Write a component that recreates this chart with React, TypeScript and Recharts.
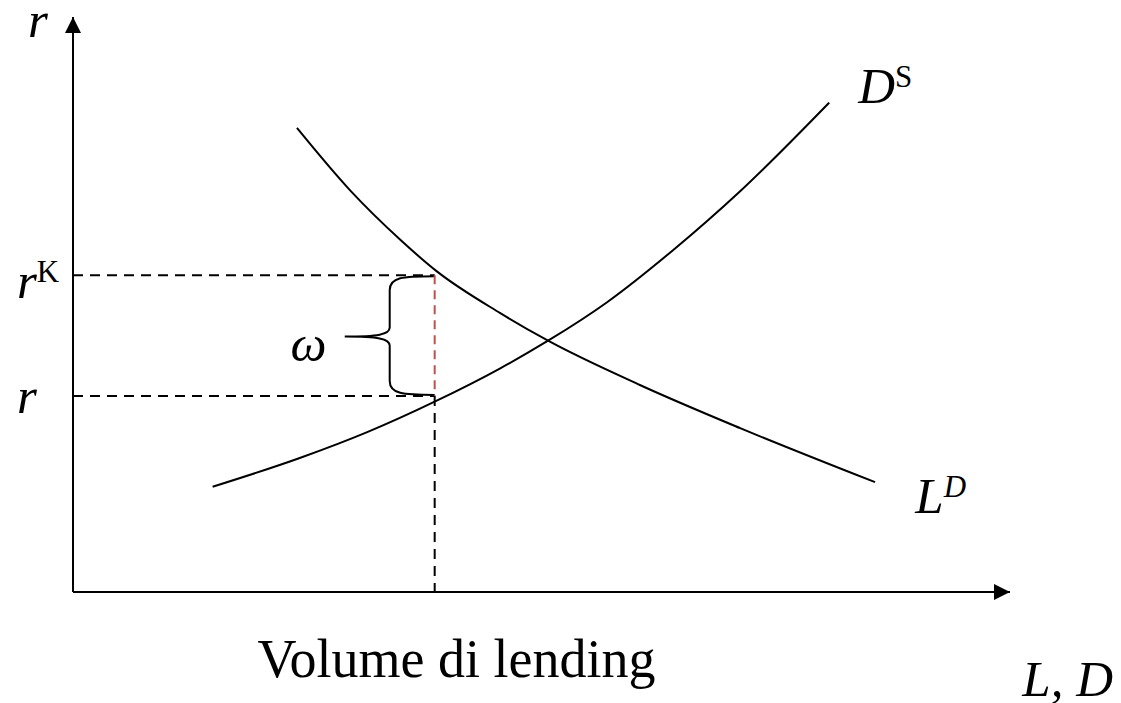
import React from 'react';
import {
  LineChart, Line, XAxis, YAxis, ReferenceLine, ReferenceDot, ReferenceArea,
} from 'recharts';

// loan demand curve L^D (quantity, rate)
const ldPoints = [
  { q: 23.9, r: 80.7 },
  { q: 29.6, r: 69.8 },
  { q: 34.9, r: 61.3 },
  { q: 38.8, r: 55.8 },
  { q: 45.6, r: 48.5 },
  { q: 50.7, r: 43.7 },
  { q: 60.5, r: 36.0 },
  { q: 71.2, r: 28.5 },
  { q: 85.6, r: 19.1 },
];

// deposit supply curve D^S
const dsPoints = [
  { q: 14.9, r: 18.3 },
  { q: 24.2, r: 23.3 },
  { q: 31.4, r: 27.8 },
  { q: 38.6, r: 33.1 },
  { q: 45.6, r: 38.9 },
  { q: 50.7, r: 43.7 },
  { q: 57.0, r: 50.4 },
  { q: 64.0, r: 59.4 },
  { q: 71.2, r: 69.7 },
  { q: 80.7, r: 85.1 },
];

const rLevel = 34.1;
const rKLevel = 55.1;
const lendingVolume = 38.6;
const braceTip = 29.0;
const yTicks = [rLevel, rKLevel];

const FONT = '"Liberation Serif", "Times New Roman", serif';

const Brace = (props: any) => {
  const { x, y, width: w, height: h } = props;
  const sx = x + w * 0.5;
  const mid = y + h / 2 + 1;
  const d = [
    `M ${x + w} ${y + 1}`,
    `C ${x + w - 32} ${y + 1} ${sx} ${y + 2} ${sx} ${y + 15}`,
    `L ${sx} ${mid - 9}`,
    `C ${sx} ${mid - 2} ${sx - 12} ${mid} ${x} ${mid}`,
    `M ${x} ${mid}`,
    `C ${sx - 12} ${mid} ${sx} ${mid + 2} ${sx} ${mid + 9}`,
    `L ${sx} ${y + h - 15}`,
    `C ${sx} ${y + h - 2} ${x + w - 32} ${y + h - 1} ${x + w} ${y + h - 1}`,
  ].join(' ');
  return <path d={d} fill="none" stroke="#000" strokeWidth={2} />;
};

const UpArrow = ({ cx, cy }: any) => (
  <polygon points={`${cx},${cy} ${cx - 8},${cy + 16} ${cx + 8},${cy + 16}`} fill="#000" />
);

const RightArrow = ({ cx, cy }: any) => (
  <polygon points={`${cx},${cy} ${cx - 16},${cy - 8} ${cx - 16},${cy + 8}`} fill="#000" />
);

const textAt = (content: React.ReactNode, extra: any = {}) => ({ cx, cy }: any) => (
  <text x={cx} y={cy} fontFamily={FONT} fontSize={51} fill="#000" {...extra}>{content}</text>
);

const RateTick = ({ y, payload }: any) => {
  const isK = payload.value === rKLevel;
  return (
    <text x={17} y={y + (isK ? 23 : 17)} fontFamily={FONT} fontSize={51} fill="#000">
      <tspan fontStyle="italic">r</tspan>
      {isK && <tspan fontSize={31} dy={-16}>K</tspan>}
    </text>
  );
};

export default function App() {
  return (
    <div style={{ position: 'absolute', left: 0, top: 0, background: '#fff' }}>
      <LineChart width={1121} height={703} margin={{ top: 17, right: 111, bottom: 0, left: 0 }}>
        <XAxis
          type="number"
          dataKey="q"
          domain={[0, 100]}
          allowDataOverflow
          ticks={[]}
          tick={false}
          tickLine={false}
          height={111}
          axisLine={{ stroke: '#000', strokeWidth: 2 }}
        />
        <YAxis
          type="number"
          dataKey="r"
          domain={[0, 100]}
          allowDataOverflow
          ticks={yTicks}
          interval={0}
          tick={<RateTick />}
          tickLine={false}
          width={73}
          axisLine={{ stroke: '#000', strokeWidth: 2 }}
        />

        <ReferenceLine
          segment={[{ x: 0, y: rKLevel }, { x: lendingVolume, y: rKLevel }]}
          stroke="#000" strokeWidth={2} strokeDasharray="10 7"
        />
        <ReferenceLine
          segment={[{ x: 0, y: rLevel }, { x: lendingVolume, y: rLevel }]}
          stroke="#000" strokeWidth={2} strokeDasharray="10 7"
        />
        <ReferenceLine
          segment={[{ x: lendingVolume, y: rKLevel }, { x: lendingVolume, y: rLevel }]}
          stroke="#c0504d" strokeWidth={2} strokeDasharray="9 6"
        />
        <ReferenceLine
          segment={[{ x: lendingVolume, y: rLevel }, { x: lendingVolume, y: 0 }]}
          stroke="#000" strokeWidth={2} strokeDasharray="10 7"
        />
        <ReferenceArea x1={braceTip} x2={lendingVolume} y1={rLevel} y2={rKLevel} shape={<Brace />} />

        <Line data={ldPoints} dataKey="r" type="monotone" stroke="#000" strokeWidth={2} dot={false} isAnimationActive={false} />
        <Line data={dsPoints} dataKey="r" type="monotone" stroke="#000" strokeWidth={2} dot={false} isAnimationActive={false} />

        <ReferenceDot x={0} y={100} r={0} ifOverflow="visible" shape={UpArrow} />
        <ReferenceDot x={100} y={0} r={0} ifOverflow="visible" shape={RightArrow} />

        <ReferenceDot x={-4.8} y={96.6} r={0} ifOverflow="visible"
          shape={textAt(<tspan fontStyle="italic">r</tspan>)} />
        <ReferenceDot x={83.8} y={85.0} r={0} ifOverflow="visible"
          shape={textAt(<><tspan fontStyle="italic">D</tspan><tspan fontSize={31} dy={-16}>S</tspan></>)} />
        <ReferenceDot x={89.9} y={13.7} r={0} ifOverflow="visible"
          shape={textAt(<><tspan fontStyle="italic">L</tspan><tspan fontSize={31} dy={-16} fontStyle="italic">D</tspan></>)} />
        <ReferenceDot x={23.2} y={40.2} r={0} ifOverflow="visible"
          shape={textAt(<tspan fontStyle="italic">ω</tspan>)} />
        <ReferenceDot x={19.7} y={-14.8} r={0} ifOverflow="visible"
          shape={textAt('Volume di lending', { fontSize: 54 })} />
        <ReferenceDot x={111.0} y={-18.0} r={0} ifOverflow="visible"
          shape={textAt(<tspan fontStyle="italic">L, D</tspan>, { textAnchor: 'end' })} />
      </LineChart>
    </div>
  );
}
